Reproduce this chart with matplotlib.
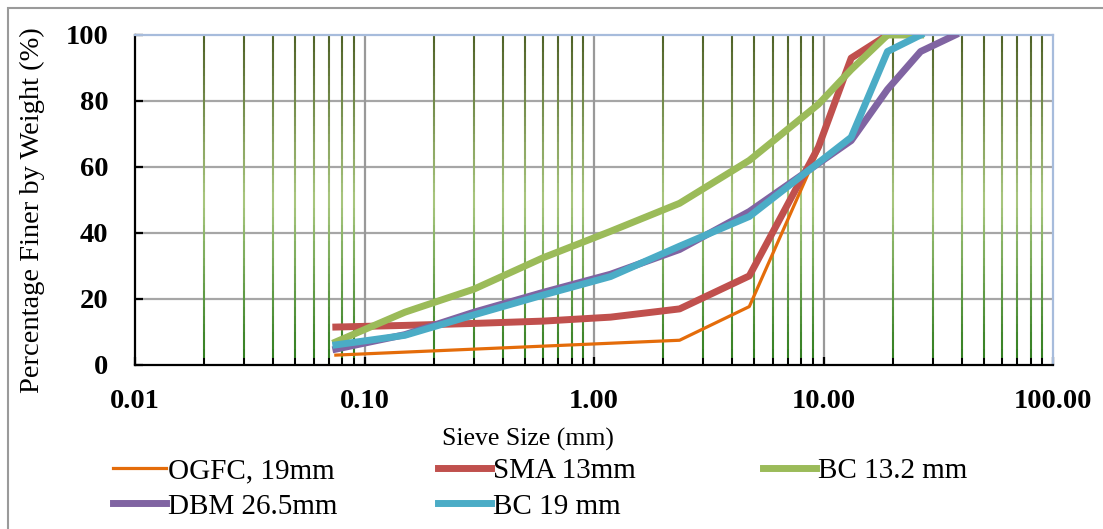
import numpy as np
import matplotlib
matplotlib.use('Agg')
import matplotlib.pyplot as plt
from matplotlib.colors import LinearSegmentedColormap
from matplotlib.patches import Rectangle
from matplotlib.ticker import FixedLocator, NullFormatter

plt.rcParams['font.family'] = ['Liberation Serif', 'DejaVu Serif']

# gradation data (sieve size mm, % passing)
ogfc_x = [0.075, 2.36, 4.75, 9.5, 13.2, 19]
ogfc_y = [3.0, 7.5, 17.7, 65, 92.5, 100]

sma_x = [0.075, 0.15, 0.3, 0.6, 1.18, 2.36, 4.75, 9.5, 13.2, 19]
sma_y = [11.5, 12.0, 12.6, 13.3, 14.5, 17.0, 27.0, 66, 93, 100]

bc13_x = [0.075, 0.15, 0.3, 0.6, 1.18, 2.36, 4.75, 9.5, 13.2, 19, 26.5]
bc13_y = [7.0, 16.0, 23.0, 32.5, 40.5, 49.0, 62.0, 79.0, 89.5, 100, 100]

dbm_x = [0.075, 0.15, 0.3, 0.6, 1.18, 2.36, 4.75, 13.2, 19, 26.5, 37.5]
dbm_y = [4.8, 9.2, 16.0, 22.0, 27.5, 35.0, 46.5, 68.0, 83.5, 95.0, 100]

bc19_x = [0.075, 0.15, 0.3, 0.6, 1.18, 2.36, 4.75, 13.2, 19, 26.5]
bc19_y = [6.1, 9.0, 15.2, 21.2, 26.8, 36.0, 45.0, 69.0, 95.0, 100]

xticks = [0.01, 0.1, 1, 10, 100]
xticklabels = ['0.01', '0.10', '1.00', '10.00', '100.00']
yticks = [0, 20, 40, 60, 80, 100]

W, H = 1103, 529
fig = plt.figure(figsize=(W / 100, H / 100), dpi=100)
ax = fig.add_axes([135 / W, 1 - 365 / H, (1053 - 135) / W, (365 - 35) / H])
ax.set_xscale('log')
ax.set_xlim(0.01, 100)
ax.set_ylim(0, 100)

# outer chart border
fig.patches.append(Rectangle((8 / W, -0.1), 1.2, 1.1 - 8 / H, transform=fig.transFigure,
                             fill=False, edgecolor='#9a9a9a', lw=1.5))

# horizontal gridlines
for y in yticks[1:-1]:
    ax.axhline(y, color='#a6a6a6', lw=1.6, zorder=1)

# major vertical gridlines (gray)
for x in [0.1, 1, 10]:
    ax.axvline(x, color='#999999', lw=1.6, zorder=1)

# minor vertical gridlines with a green gradient
minor = [m * d for d in [0.01, 0.1, 1, 10] for m in range(2, 10)]
grad = LinearSegmentedColormap.from_list('g', [(0, '#2b7a1c'), (0.5, '#a9c77f'), (1, '#4f6228')])
nseg = 40
for k in range(nseg):
    lo, hi = 100 * k / nseg, 100 * (k + 1) / nseg
    ax.vlines(minor, lo, hi, colors=[grad((k + 0.5) / nseg)], lw=1.5, zorder=1)

ax.plot(ogfc_x, ogfc_y, color='#e46c0a', lw=2.3, label='OGFC, 19mm', zorder=3)
ax.plot(sma_x, sma_y, color='#c0504d', lw=5, label='SMA 13mm', zorder=3)
ax.plot(bc13_x, bc13_y, color='#9bbb59', lw=5, label='BC 13.2 mm', zorder=3)
ax.plot(dbm_x, dbm_y, color='#8064a2', lw=5, label='DBM 26.5mm', zorder=3)
ax.plot(bc19_x, bc19_y, color='#4bacc6', lw=5, label='BC 19 mm', zorder=3)

for s in ['left', 'bottom']:
    ax.spines[s].set_color('black')
    ax.spines[s].set_linewidth(1.6)
for s in ['top', 'right']:
    ax.spines[s].set_color('#a7bcdc')
    ax.spines[s].set_linewidth(1.6)

ax.xaxis.set_major_locator(FixedLocator(xticks))
ax.set_xticklabels(xticklabels)
ax.xaxis.set_minor_locator(FixedLocator(minor))
ax.xaxis.set_minor_formatter(NullFormatter())
ax.set_yticks(yticks)
ax.tick_params(axis='x', which='major', direction='in', length=6, width=1.6, pad=17,
               labelsize=20.5)
ax.tick_params(axis='x', which='minor', direction='in', length=5, width=1.4)
ax.tick_params(axis='y', direction='in', length=6, width=1.6, pad=19, labelsize=20.5)
for lab in ax.get_xticklabels() + ax.get_yticklabels():
    lab.set_fontweight('bold')

ax.set_ylabel('Percentage Finer by Weight (%)', fontsize=20.5)
ax.yaxis.set_label_coords(-0.098, 0.47)
ax.set_xlabel('Sieve Size (mm)', fontsize=18.5)
ax.xaxis.set_label_coords(0.428, -0.19)

# legend: one column per fig.legend so each column sits where the reference has it
h, l = ax.get_legend_handles_labels()
columns = [([0, 3], 113), ([1, 4], 438), ([2], 763)]
for idx, xpix in columns:
    fig.legend([h[i] for i in idx], [l[i] for i in idx], ncol=1, frameon=False,
               loc='upper left', bbox_to_anchor=(xpix / W, 1 - 458 / H), fontsize=21,
               handlelength=1.8, handletextpad=0.08, labelspacing=0.3,
               borderpad=0, borderaxespad=0)

fig.savefig('out.png', dpi=100)
